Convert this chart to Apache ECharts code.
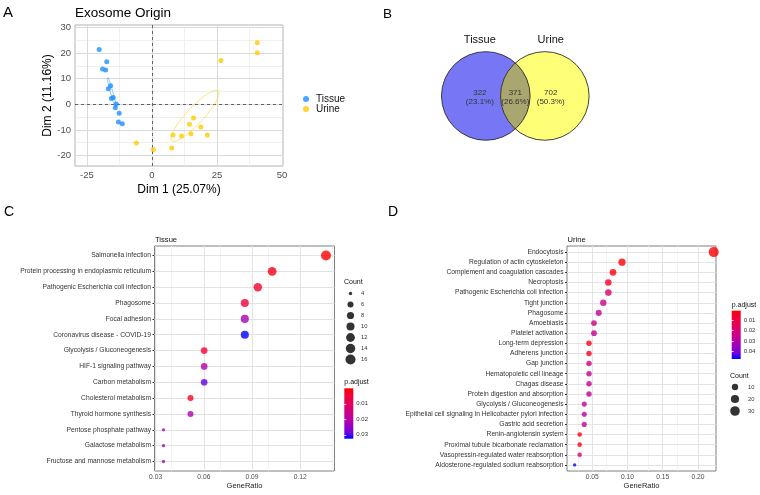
<!DOCTYPE html>
<html>
<head>
<meta charset="utf-8">
<script src="https://cdn.jsdelivr.net/npm/echarts@6.0.0/dist/echarts.min.js"></script>
<style>
html,body{margin:0;padding:0;background:#ffffff;}
#main{width:760px;height:495px;}
</style>
</head>
<body>
<div id="main"></div>
<script>
// ================= DATA =================
// Panel A : PCA of exosome samples
const pcaGroups = ['Tissue', 'Urine'];
const pcaTissueX = [-20.3, -17.4, -19.0, -17.8, -15.9, -16.8, -15.6, -14.9, -13.7, -14.1, -12.6, -12.9, -11.4];
const pcaTissueY = [21.4, 16.6, 13.8, 13.4, 7.3, 6.1, 2.3, 2.7, 0.1, -1.3, -3.5, -6.9, -7.6];
const pcaUrineX = [40.5, 40.5, 26.5, -6.0, 0.5, 7.6, 8.1, 11.4, 15.0, 14.4, 16.0, 18.8, 21.3];
const pcaUrineY = [24.1, 20.2, 17.1, -15.1, -17.7, -17.1, -12.0, -12.4, -11.5, -7.8, -5.3, -8.9, -12.0];
const pcaXTicks = [-25, 0, 25, 50];
const pcaYTicks = [-20, -10, 0, 10, 20, 30];
const pcaXName = 'Dim 1 (25.07%)';
const pcaYName = 'Dim 2 (11.16%)';

// Panel B : Venn diagram
const vennSets = ['Tissue', 'Urine'];
const vennCounts = [322, 371, 702]; // Tissue only, shared, Urine only

// Panel C : Tissue KEGG enrichment
const tissueTerms = ['Salmonella infection', 'Protein processing in endoplasmic reticulum', 'Pathogenic Escherichia coli infection', 'Phagosome', 'Focal adhesion', 'Coronavirus disease - COVID-19', 'Glycolysis / Gluconeogenesis', 'HIF-1 signaling pathway', 'Carbon metabolism', 'Cholesterol metabolism', 'Thyroid hormone synthesis', 'Pentose phosphate pathway', 'Galactose metabolism', 'Fructose and mannose metabolism'];
const tissueRatio = [0.1360, 0.1025, 0.0936, 0.0855, 0.0855, 0.0855, 0.0602, 0.0602, 0.0602, 0.0517, 0.0517, 0.0349, 0.0349, 0.0349];
const tissueCount = [16, 12, 11, 10, 10, 10, 7, 7, 7, 6, 6, 4, 4, 4];
const tissuePadj = [0.00002, 0.0016, 0.0040, 0.0050, 0.0220, 0.0325, 0.0042, 0.0205, 0.0290, 0.0033, 0.0210, 0.0228, 0.0228, 0.0228];
const tissueXTicks = [0.03, 0.06, 0.09, 0.12];
const tissueCountKeys = [4, 6, 8, 10, 12, 14, 16];
const tissuePadjTicks = [0.01, 0.02, 0.03];

// Panel D : Urine KEGG enrichment
const urineTerms = ['Endocytosis', 'Regulation of actin cytoskeleton', 'Complement and coagulation cascades', 'Necroptosis', 'Pathogenic Escherichia coli infection', 'Tight junction', 'Phagosome', 'Amoebiasis', 'Platelet activation', 'Long-term depression', 'Adherens junction', 'Gap junction', 'Hematopoietic cell lineage', 'Chagas disease', 'Protein digestion and absorption', 'Glycolysis / Gluconeogenesis', 'Epithelial cell signaling in Helicobacter pylori infection', 'Gastric acid secretion', 'Renin-angiotensin system', 'Proximal tubule bicarbonate reclamation', 'Vasopressin-regulated water reabsorption', 'Aldosterone-regulated sodium reabsorption'];
const urineRatio = [0.2224, 0.0922, 0.0794, 0.0728, 0.0728, 0.0656, 0.0591, 0.0524, 0.0524, 0.0453, 0.0453, 0.0453, 0.0453, 0.0453, 0.0453, 0.0386, 0.0386, 0.0386, 0.0321, 0.0321, 0.0321, 0.0250];
const urineCount = [34, 14, 12, 11, 11, 10, 9, 8, 8, 7, 7, 7, 7, 7, 7, 6, 6, 6, 5, 5, 5, 4];
const urinePadj = [0.0010, 0.0015, 0.0025, 0.0056, 0.0190, 0.0240, 0.0260, 0.0217, 0.0260, 0.0033, 0.0047, 0.0240, 0.0260, 0.0260, 0.0260, 0.0286, 0.0286, 0.0286, 0.0020, 0.0033, 0.0190, 0.0470];
const urineXTicks = [0.05, 0.10, 0.15, 0.20];
const urineCountKeys = [10, 20, 30];
const urinePadjTicks = [0.01, 0.02, 0.03, 0.04];

// ================= STYLE / LAYOUT =================
const FF = "'Liberation Sans', Arial, Helvetica, sans-serif";
const COL_TISSUE = '#1E90FF';
const COL_URINE = '#FFCC00';
// red -> blue interpolated in Lab (ggplot-like)
const RED_BLUE = ['#FF0000', '#F40031', '#E8004F', '#DA006C', '#CA0089', '#B500A5', '#9A00C3', '#7300E1', '#0000FF'];
const VENN_OFF = 0.666;

function minorsOf(ticks, lo, hi) {
  const step = ticks[1] - ticks[0];
  const out = [];
  for (let i = -1; i < ticks.length; i++) {
    const v = +(ticks[0] + (i + 0.5) * step).toFixed(6);
    if (v > lo && v < hi) out.push(v);
  }
  return out;
}
function dotSize(c, lo, hi) { return 2 + 1.34 * (1 + 5 * Math.sqrt((c - lo) / (hi - lo))); }
function range(n) { return Array.from({length: n}, (_, i) => i); }
function confEllipse(xs, ys, k) {
  const n = xs.length;
  const mx = xs.reduce((a, b) => a + b, 0) / n, my = ys.reduce((a, b) => a + b, 0) / n;
  let sxx = 0, syy = 0, sxy = 0;
  for (let i = 0; i < n; i++) { sxx += (xs[i] - mx) ** 2; syy += (ys[i] - my) ** 2; sxy += (xs[i] - mx) * (ys[i] - my); }
  sxx /= (n - 1) * n; syy /= (n - 1) * n; sxy /= (n - 1) * n;
  const tr = (sxx + syy) / 2, d = Math.sqrt(((sxx - syy) / 2) ** 2 + sxy * sxy);
  const l1 = tr + d, l2 = tr - d, th = 0.5 * Math.atan2(2 * sxy, sxx - syy);
  const a = Math.sqrt(k * l1), b = Math.sqrt(k * l2);
  const pts = [];
  for (let j = 0; j <= 100; j++) {
    const t = 2 * Math.PI * j / 100;
    pts.push([mx + a * Math.cos(t) * Math.cos(th) - b * Math.sin(t) * Math.sin(th),
              my + a * Math.cos(t) * Math.sin(th) + b * Math.sin(t) * Math.cos(th)]);
  }
  return pts;
}
const zip = (a, b) => a.map((v, i) => [v, b[i]]);

const grids = [], xAxes = [], yAxes = [], series = [], visualMaps = [], graphics = [];
function addGrid(g) { grids.push(Object.assign({outerBoundsMode: 'none', containLabel: false}, g)); return grids.length - 1; }
function addX(a) { xAxes.push(a); return xAxes.length - 1; }
function addY(a) { yAxes.push(a); return yAxes.length - 1; }
function txt(x, y, s, size, opt) {
  graphics.push(Object.assign({type: 'text', x: x, y: y, silent: true,
    style: Object.assign({text: s, fill: '#000', fontSize: size, fontFamily: FF, verticalAlign: 'middle', align: 'left'}, (opt || {}))}));
}
// grid lines as markLines through the axes' scales
function gridMarks(xvals, yvals, color, width) {
  return xvals.map(v => ({xAxis: v, lineStyle: {color: color, width: width, type: 'solid'}}))
    .concat(yvals.map(v => ({yAxis: v, lineStyle: {color: color, width: width, type: 'solid'}})));
}
const hidden = {show: false};

// ---------- Panel A ----------
const aXmin = -29.6, aXmax = 50.4, aYmin = -24.1, aYmax = 31.0;
const gA = addGrid({left: 75, top: 25, width: 208, height: 141, show: true, borderColor: '#B3B3B3', borderWidth: 1, backgroundColor: 'transparent'});
const axA = addX({gridIndex: gA, type: 'value', min: aXmin, max: aXmax,
  axisLine: hidden, axisTick: {show: true, length: 2.5, customValues: pcaXTicks, lineStyle: {color: '#B3B3B3'}},
  axisLabel: {customValues: pcaXTicks, color: '#4D4D4D', fontSize: 9.5, fontFamily: FF, margin: 4},
  splitLine: hidden,
  name: pcaXName, nameLocation: 'middle', nameGap: 18, nameTextStyle: {fontSize: 12, fontFamily: FF, color: '#000', verticalAlign: 'top'}});
const ayA = addY({gridIndex: gA, type: 'value', min: aYmin, max: aYmax,
  axisLine: hidden, axisTick: {show: true, length: 2.5, customValues: pcaYTicks, lineStyle: {color: '#B3B3B3'}},
  axisLabel: {customValues: pcaYTicks, color: '#4D4D4D', fontSize: 9.5, fontFamily: FF, margin: 4},
  splitLine: hidden,
  name: pcaYName, nameLocation: 'middle', nameGap: 21, nameRotate: 90, nameTextStyle: {fontSize: 12, fontFamily: FF, color: '#000'}});
const aGridMarks = gridMarks(minorsOf(pcaXTicks, aXmin, aXmax), minorsOf(pcaYTicks, aYmin, aYmax), '#EBEBEB', 0.8)
  .concat(gridMarks(pcaXTicks.filter(v => v > aXmin && v < aXmax), pcaYTicks.filter(v => v > aYmin && v < aYmax), '#D9D9D9', 1));

series.push({type: 'line', name: 'Tissue ellipse', xAxisIndex: axA, yAxisIndex: ayA, data: confEllipse(pcaTissueX, pcaTissueY, 5.99),
  showSymbol: false, smooth: false, silent: true, z: 3, lineStyle: {color: COL_TISSUE, width: 0.9, opacity: 0.55}});
series.push({type: 'line', name: 'Urine ellipse', xAxisIndex: axA, yAxisIndex: ayA, data: confEllipse(pcaUrineX, pcaUrineY, 5.99),
  showSymbol: false, smooth: false, silent: true, z: 3, lineStyle: {color: COL_URINE, width: 0.9, opacity: 0.6}});
series.push({type: 'scatter', name: pcaGroups[0], xAxisIndex: axA, yAxisIndex: ayA, data: zip(pcaTissueX, pcaTissueY),
  symbolSize: 5, itemStyle: {color: COL_TISSUE}, z: 4,
  markLine: {silent: true, symbol: 'none', label: {show: false}, animation: false, z: 2,
    lineStyle: {type: [3, 3], color: '#444', width: 0.8}, data: [{xAxis: 0}, {yAxis: 0}]}});
series.push({type: 'scatter', name: pcaGroups[1], xAxisIndex: axA, yAxisIndex: ayA, data: zip(pcaUrineX, pcaUrineY),
  symbolSize: 5, itemStyle: {color: COL_URINE}, z: 4,
  markLine: {silent: true, symbol: 'none', label: {show: false}, animation: false, z: 1, data: aGridMarks}});

// ---------- Panel B (Venn) ----------
const gB = addGrid({left: 426.7, top: 29.5, width: 177.2, height: 132.9});
const bx = addX({gridIndex: gB, type: 'value', min: -2, max: 2, show: false});
const by = addY({gridIndex: gB, type: 'value', min: -1.5, max: 1.5, show: false});
const vennTotal = vennCounts.reduce((a, b) => a + b, 0);
series.push({type: 'custom', name: 'venn', xAxisIndex: bx, yAxisIndex: by, silent: true, clip: false,
  data: [[0, 0]],
  renderItem: function (params, api) {
    const R = api.size([1, 0])[0];
    const cL = api.coord([-VENN_OFF, 0]), cR = api.coord([VENN_OFF, 0]);
    const a = Math.acos(VENN_OFF);
    const lens = [];
    for (let k = 0; k <= 40; k++) { const t = -a + 2 * a * k / 40; lens.push(api.coord([-VENN_OFF + Math.cos(t), Math.sin(t)])); }
    for (let k = 0; k <= 40; k++) { const t = a - 2 * a * k / 40; lens.push(api.coord([VENN_OFF - Math.cos(t), Math.sin(t)])); }
    const labX = [-0.8, 0, 0.8];
    const children = [
      {type: 'circle', shape: {cx: cL[0], cy: cL[1], r: R}, style: {fill: '#7777F6', stroke: null}},
      {type: 'circle', shape: {cx: cR[0], cy: cR[1], r: R}, style: {fill: '#FFFF77', stroke: null}},
      {type: 'polygon', shape: {points: lens}, style: {fill: '#A9A66F', stroke: null}},
      {type: 'circle', shape: {cx: cL[0], cy: cL[1], r: R}, style: {fill: 'none', stroke: '#2B2B2B', lineWidth: 0.9}},
      {type: 'circle', shape: {cx: cR[0], cy: cR[1], r: R}, style: {fill: 'none', stroke: '#2B2B2B', lineWidth: 0.9}}
    ];
    vennSets.forEach(function (s, i) {
      const p = api.coord([i === 0 ? -0.8 : 0.8, 1.26]);
      children.push({type: 'text', x: p[0], y: p[1], style: {text: s, fill: '#111', fontSize: 11, fontFamily: FF, align: 'center', verticalAlign: 'middle'}});
    });
    vennCounts.forEach(function (c, i) {
      const p = api.coord([labX[i], -0.02]);
      children.push({type: 'text', x: p[0], y: p[1], style: {text: c + '\n(' + (c / vennTotal * 100).toFixed(1) + '%)',
        fill: '#333', fontSize: 8, lineHeight: 9, fontFamily: FF, align: 'center', verticalAlign: 'middle'}});
    });
    return {type: 'group', children: children};
  }});

// ---------- Dot-plot builder (Panels C & D) ----------
function dotPanel(cfg) {
  const n = cfg.terms.length;
  const g = addGrid({left: cfg.left, top: cfg.top, width: cfg.width, height: cfg.height, show: true, borderColor: '#7F7F7F', borderWidth: 1, backgroundColor: 'transparent'});
  const xi = addX({gridIndex: g, type: 'value', min: cfg.xmin, max: cfg.xmax, axisLine: hidden,
    axisTick: {show: true, length: 2, customValues: cfg.xticks, lineStyle: {color: '#333'}},
    axisLabel: {customValues: cfg.xticks, color: '#4D4D4D', fontSize: 6.7, fontFamily: FF, margin: 3, formatter: v => v.toFixed(2)},
    splitLine: hidden,
    name: 'GeneRatio', nameLocation: 'middle', nameGap: 10, nameTextStyle: {fontSize: 7.5, fontFamily: FF, color: '#222', verticalAlign: 'top'}});
  const idx = range(n);
  const ymin = -0.6, ymax = n - 1 + 0.6;
  const yi = addY({gridIndex: g, type: 'value', min: ymin, max: ymax, inverse: true, axisLine: hidden,
    axisTick: {show: true, length: 2, customValues: idx, lineStyle: {color: '#333'}},
    axisLabel: {customValues: idx, color: '#333333', fontSize: 6.7, fontFamily: FF, margin: 3.5, formatter: v => cfg.terms[Math.round(v)]},
    splitLine: hidden});
  const marks = gridMarks(minorsOf(cfg.xticks, cfg.xmin, cfg.xmax), [], '#F0F0F0', 0.8)
    .concat(gridMarks(cfg.xticks, idx, '#E3E3E3', 1));
  const cmin = Math.min(...cfg.count), cmax = Math.max(...cfg.count);
  const pmin = Math.min(...cfg.padj), pmax = Math.max(...cfg.padj);
  series.push({type: 'scatter', name: cfg.title, xAxisIndex: xi, yAxisIndex: yi, z: 4,
    data: idx.map(i => [cfg.ratio[i], i, cfg.count[i], cfg.padj[i]]),
    symbolSize: v => dotSize(v[2], cmin, cmax),
    markLine: {silent: true, symbol: 'none', label: {show: false}, animation: false, z: 1, data: marks}});
  visualMaps.push({type: 'continuous', show: false, seriesIndex: series.length - 1, dimension: 3, min: pmin, max: pmax,
    inRange: {color: RED_BLUE}});
  txt(cfg.left + 0.5, cfg.top - 6.5, cfg.title, 7.6, {fill: '#111'});

  // Count legend
  const kg = addGrid({left: cfg.countBox[0], top: cfg.countBox[1], width: cfg.countBox[2], height: cfg.countBox[3]});
  const kx = addX({gridIndex: kg, type: 'value', min: 0, max: 1, show: false});
  const kidx = range(cfg.countKeys.length);
  const ky = addY({gridIndex: kg, type: 'value', min: -0.5, max: cfg.countKeys.length - 0.5, inverse: true, position: 'right',
    axisLine: hidden, axisTick: hidden, splitLine: hidden,
    axisLabel: {customValues: kidx, color: '#333', fontSize: 5.8, fontFamily: FF, margin: cfg.countLabMargin, formatter: v => String(cfg.countKeys[Math.round(v)])}});
  series.push({type: 'scatter', name: cfg.title + ' count legend', xAxisIndex: kx, yAxisIndex: ky, silent: true, z: 4,
    data: kidx.map(i => [0.5, i, cfg.countKeys[i]]), symbolSize: v => dotSize(v[2], cmin, cmax), itemStyle: {color: '#000'}});
  txt(cfg.countBox[0], cfg.countTitleY, 'Count', 7, {fill: '#111'});

  // p.adjust colour bar
  const bg = addGrid({left: cfg.barBox[0], top: cfg.barBox[1], width: cfg.barBox[2], height: cfg.barBox[3], show: true, borderWidth: 0,
    backgroundColor: {type: 'linear', x: 0, y: 0, x2: 0, y2: 1, colorStops: RED_BLUE.map((c, i) => ({offset: i / (RED_BLUE.length - 1), color: c}))}});
  addX({gridIndex: bg, type: 'value', min: 0, max: 1, show: false});
  addY({gridIndex: bg, type: 'value', min: pmin, max: pmax, inverse: true, position: 'right', axisLine: hidden, splitLine: hidden,
    axisTick: {show: true, inside: true, length: 2, customValues: cfg.padjTicks, lineStyle: {color: '#FFFFFF', width: 0.8}},
    axisLabel: {customValues: cfg.padjTicks, color: '#333', fontSize: 6, fontFamily: FF, margin: 3, formatter: v => v.toFixed(2)}});
  addY({gridIndex: bg, type: 'value', min: pmin, max: pmax, inverse: true, position: 'left', axisLine: hidden, splitLine: hidden, axisLabel: hidden,
    axisTick: {show: true, inside: true, length: 2, customValues: cfg.padjTicks, lineStyle: {color: '#FFFFFF', width: 0.8}}});
  txt(cfg.barBox[0], cfg.barTitleY, 'p.adjust', 7, {fill: '#111'});
}

dotPanel({title: 'Tissue', terms: tissueTerms, ratio: tissueRatio, count: tissueCount, padj: tissuePadj,
  xticks: tissueXTicks, xmin: 0.0293, xmax: 0.1413, countKeys: tissueCountKeys, padjTicks: tissuePadjTicks,
  left: 154.5, top: 246, width: 180, height: 225,
  countBox: [344, 288, 13, 77], countLabMargin: 4, countTitleY: 282.5,
  barBox: [344.3, 388.3, 9, 50.4], barTitleY: 382.3});

dotPanel({title: 'Urine', terms: urineTerms, ratio: urineRatio, count: urineCount, padj: urinePadj,
  xticks: urineXTicks, xmin: 0.0141, xmax: 0.2256, countKeys: urineCountKeys, padjTicks: urinePadjTicks,
  left: 567, top: 246, width: 149, height: 225,
  countBox: [730, 381, 10, 36], countLabMargin: 8, countTitleY: 376,
  barBox: [731.7, 310.7, 9, 48.3], barTitleY: 305});

// ---------- Free text ----------
txt(3, 12.5, 'A', 15);
txt(75, 13.3, 'Exosome Origin', 13.5);
txt(383, 14, 'B', 13.5);
txt(4, 212, 'C', 14);
txt(388, 212, 'D', 14);

const chart = echarts.init(document.getElementById('main'), null, {renderer: 'canvas', width: 760, height: 495});
chart.setOption({
  animation: false,
  backgroundColor: '#ffffff',
  textStyle: {fontFamily: FF},
  grid: grids, xAxis: xAxes, yAxis: yAxes, series: series, visualMap: visualMaps,
  legend: {show: true, data: pcaGroups, orient: 'vertical', left: 298, top: 89, itemWidth: 10, itemHeight: 6, itemGap: 0,
    icon: 'circle', selectedMode: false, textStyle: {fontSize: 10, fontFamily: FF, color: '#111', lineHeight: 10}},
  graphic: graphics
});
</script>
</body>
</html>
